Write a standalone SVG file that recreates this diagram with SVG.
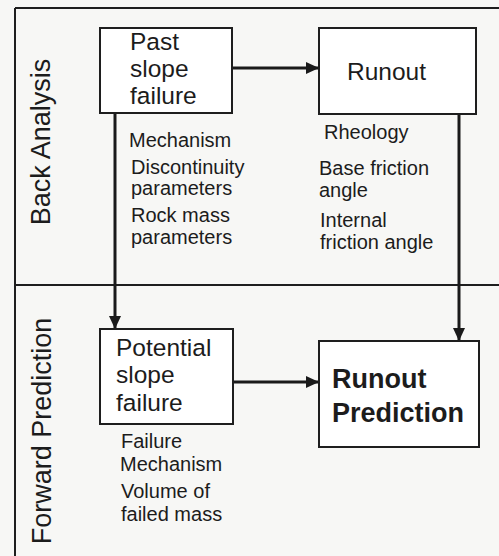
<svg xmlns="http://www.w3.org/2000/svg" width="499" height="556" viewBox="0 0 499 556">
<style>
.frame{stroke:#1e1e1e;stroke-width:2;fill:none}
.box{stroke:#1e1e1e;stroke-width:2;fill:#ffffff}
.conn{stroke:#1a1a1a;stroke-width:3;fill:none}
text{font-family:"Liberation Sans",Arial,Helvetica,sans-serif;fill:#1c1c1c}
.bt{font-size:24.5px}
.lb{font-size:20px}
.bold{font-size:27px;font-weight:bold}
.side{font-size:27px;text-anchor:middle}
</style>
<defs>
<marker id="ah" markerUnits="userSpaceOnUse" markerWidth="14" markerHeight="14" refX="13" refY="7" orient="auto">
<path d="M0,1 L13,7 L0,13 Z" fill="#1a1a1a"/>
</marker>
</defs>
<rect x="0" y="0" width="499" height="556" fill="#f7f7f5"/>
<g id="frame">
<line class="frame" x1="15" y1="8" x2="499" y2="8"/>
<line class="frame" x1="15" y1="8" x2="15" y2="556"/>
<line class="frame" x1="15" y1="285" x2="499" y2="285"/>
<text class="side" transform="translate(50,142) rotate(-90)">Back Analysis</text>
<text class="side" transform="translate(51,431) rotate(-90)">Forward Prediction</text>
</g>
<g id="connectors">
<line class="conn" x1="232" y1="68" x2="319" y2="68" marker-end="url(#ah)"/>
<line class="conn" x1="115" y1="113" x2="115" y2="329" marker-end="url(#ah)"/>
<line class="conn" x1="459" y1="114" x2="459" y2="341" marker-end="url(#ah)"/>
<line class="conn" x1="233" y1="382" x2="319" y2="382" marker-end="url(#ah)"/>
</g>
<g id="past">
<rect class="box" x="100" y="28" width="132" height="85"/>
<text class="bt" x="130" y="50">Past</text>
<text class="bt" x="130" y="77">slope</text>
<text class="bt" x="130" y="104">failure</text>
</g>
<g id="past-params">
<text class="lb" x="129" y="147">Mechanism</text>
<text class="lb" x="131" y="174">Discontinuity</text>
<text class="lb" x="131" y="195">parameters</text>
<text class="lb" x="131" y="222">Rock mass</text>
<text class="lb" x="131" y="244">parameters</text>
</g>
<g id="runout">
<rect class="box" x="319" y="28" width="157" height="86"/>
<text class="bt" x="347" y="80">Runout</text>
</g>
<g id="runout-params">
<text class="lb" x="324" y="139">Rheology</text>
<text class="lb" x="319" y="175">Base friction</text>
<text class="lb" x="319" y="197">angle</text>
<text class="lb" x="320" y="227">Internal</text>
<text class="lb" x="320" y="249">friction angle</text>
</g>
<g id="potential">
<rect class="box" x="100" y="329" width="133" height="95"/>
<text class="bt" x="116" y="356">Potential</text>
<text class="bt" x="116" y="383">slope</text>
<text class="bt" x="116" y="411">failure</text>
</g>
<g id="potential-params">
<text class="lb" x="121" y="448">Failure</text>
<text class="lb" x="120" y="471">Mechanism</text>
<text class="lb" x="121" y="498">Volume of</text>
<text class="lb" x="121" y="521">failed mass</text>
</g>
<g id="prediction">
<rect class="box" x="319" y="341" width="160" height="106"/>
<text class="bold" x="332" y="388">Runout</text>
<text class="bold" x="332" y="422">Prediction</text>
</g>
</svg>
